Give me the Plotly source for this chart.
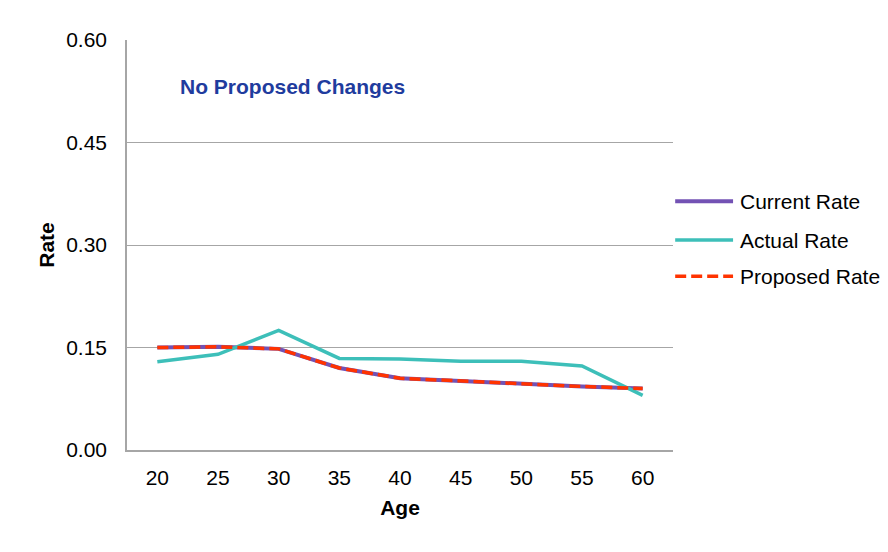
import plotly.graph_objects as go

ages = ["20", "25", "30", "35", "40", "45", "50", "55", "60"]
current_rate = [0.150, 0.151, 0.148, 0.120, 0.105, 0.101, 0.096, 0.093, 0.090]
actual_rate = [0.129, 0.140, 0.175, 0.134, 0.133, 0.130, 0.130, 0.123, 0.080]
proposed_rate = [0.150, 0.151, 0.148, 0.120, 0.105, 0.101, 0.096, 0.093, 0.090]
y_ticks = [0.0, 0.15, 0.30, 0.45, 0.60]

font_family = "Liberation Sans, Arial, sans-serif"
series = [
    ("Current Rate", current_rate, dict(color="#7352B4", width=4)),
    ("Actual Rate", actual_rate, dict(color="#3DBFB9", width=3.5)),
    ("Proposed Rate", proposed_rate, dict(color="#FF3300", width=3.5, dash="11px,5px")),
]

fig = go.Figure()
for name, vals, line in series:
    fig.add_trace(go.Scatter(x=ages, y=vals, mode="lines", name=name, line=line,
                             showlegend=False))

# legend drawn as line samples + text, placed to the right of the plot area
legend_y = [0.607, 0.512, 0.424]
shapes = []
annotations = []
for (name, vals, line), ly in zip(series, legend_y):
    shapes.append(dict(type="line", xref="paper", yref="paper", x0=1.004, x1=1.110,
                       y0=ly, y1=ly, line=line))
    annotations.append(dict(text=name, xref="paper", yref="paper", x=1.119, y=ly,
                            xanchor="left", yanchor="middle", showarrow=False,
                            font=dict(size=21, color="#000000", family=font_family)))

annotations.append(dict(text="<b>No Proposed Changes</b>", xref="paper", yref="paper",
                        x=0.094, y=0.887, xanchor="left", yanchor="middle", showarrow=False,
                        font=dict(size=21, color="#1F3C9E", family=font_family)))

fig.update_layout(
    width=888, height=552,
    margin=dict(l=119, r=223, t=32, b=110),
    paper_bgcolor="white", plot_bgcolor="white",
    font=dict(family=font_family, size=21, color="#000000"),
    showlegend=False,
    shapes=shapes,
    annotations=annotations,
)
fig.update_xaxes(type="category", range=[-0.5, 8.5], showgrid=False,
                 showline=True, linecolor="#A6A6A6", linewidth=1.5,
                 ticks="", ticklabelstandoff=8,
                 title=dict(text="<b>Age</b>", standoff=12, font=dict(size=21)))
fig.update_yaxes(range=[0, 0.6], tickvals=y_ticks, tickformat=".2f",
                 showgrid=True, gridcolor="#A6A6A6", gridwidth=1,
                 showline=True, linecolor="#A6A6A6", linewidth=1.5,
                 ticks="", ticklabelstandoff=14, zeroline=False,
                 title=dict(text="<b>Rate</b>", standoff=6, font=dict(size=21)))

fig.write_html("out.html")
